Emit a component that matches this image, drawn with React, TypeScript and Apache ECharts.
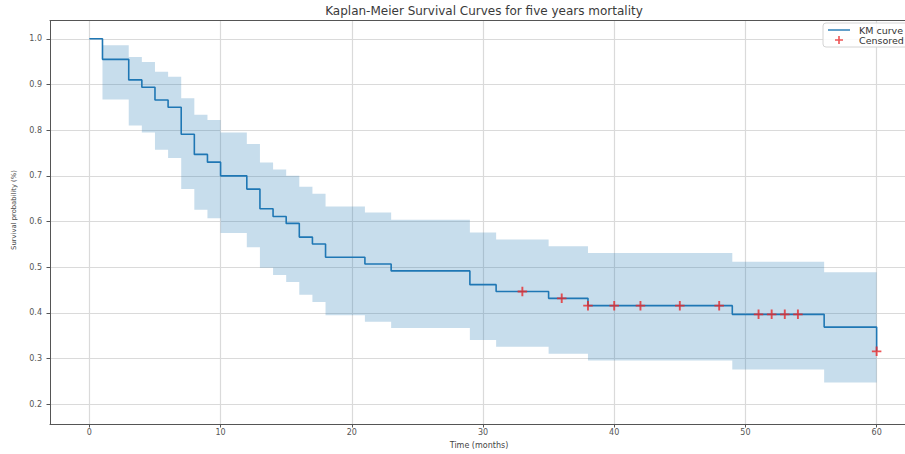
import React, { useEffect, useRef } from "react";
import * as echarts from "echarts";

const TITLE = "Kaplan-Meier Survival Curves for five years mortality";
const X_NAME = "Time (months)";
const Y_NAME = "Survival probability (%)";

const TIMES = [0, 1, 3, 4, 5, 6, 7, 8, 9, 10, 12, 13, 14, 15, 16, 17, 18, 21, 23, 29, 31, 35, 38, 49, 56, 60];
const SURVIVAL = [1.0, 0.955, 0.91, 0.894, 0.866, 0.85, 0.791, 0.747, 0.73, 0.7, 0.671, 0.628, 0.611, 0.596, 0.566, 0.551, 0.522, 0.507, 0.492, 0.462, 0.447, 0.432, 0.416, 0.397, 0.369, 0.316];
const CI_UPPER = [1.0, 0.986, 0.96, 0.949, 0.928, 0.917, 0.87, 0.834, 0.822, 0.795, 0.77, 0.729, 0.714, 0.7, 0.676, 0.661, 0.633, 0.62, 0.604, 0.576, 0.561, 0.546, 0.531, 0.512, 0.489, 0.489];
const CI_LOWER = [1.0, 0.867, 0.81, 0.795, 0.757, 0.739, 0.671, 0.626, 0.607, 0.575, 0.544, 0.499, 0.483, 0.468, 0.44, 0.424, 0.395, 0.381, 0.367, 0.341, 0.326, 0.311, 0.296, 0.276, 0.248, 0.248];
const CENSORED_TIMES = [33, 36, 38, 40, 42, 45, 48, 51, 52, 53, 54, 60];

const X_TICKS = [0, 10, 20, 30, 40, 50, 60];
const Y_TICKS = [0.2, 0.3, 0.4, 0.5, 0.6, 0.7, 0.8, 0.9, 1.0];

const FONT = "DejaVu Sans";
const PLUS = "path://M4,0 H6 V4 H10 V6 H6 V10 H4 V6 H0 V4 H4 Z";
const LINE_ICON = "path://M0,0 M0,3.3 L22,3.3 L22,4.7 L0,4.7 Z M22,8";

function survivalAt(t: number): number {
  let v = SURVIVAL[0];
  for (let i = 0; i < TIMES.length; i++) {
    if (TIMES[i] <= t) v = SURVIVAL[i];
  }
  return v;
}

export default function App() {
  const ref = useRef<HTMLDivElement>(null);

  useEffect(() => {
    document.body.style.margin = "0";
    document.body.style.overflow = "hidden";
    document.documentElement.style.overflow = "hidden";
    if (!ref.current) return;
    const chart = echarts.init(ref.current, undefined, { renderer: "svg" });

    const bandData = TIMES.map((t, i) => [t, CI_LOWER[i], CI_UPPER[i]]);
    const kmData = TIMES.map((t, i) => [t, SURVIVAL[i]]);
    const censData = CENSORED_TIMES.map((t) => [t, survivalAt(t)]);

    const gridLine = { show: true, lineStyle: { color: "#dadada", width: 1.2 } };

    chart.setOption({
      animation: false,
      backgroundColor: "#ffffff",
      title: {
        text: TITLE,
        left: 479,
        textAlign: "center",
        top: 0,
        textStyle: { fontFamily: FONT, fontSize: 12, fontWeight: "normal", color: "#3a3a3a" },
      },
      legend: {
        data: [
          { name: "KM curve", icon: LINE_ICON, itemStyle: { color: "#1f77b4" } },
          { name: "Censored" },
        ],
        orient: "vertical",
        left: 823,
        top: 23,
        itemWidth: 22,
        itemHeight: 8,
        itemGap: 0,
        padding: [2, 8, 2, 5],
        borderColor: "#d4d4d4",
        borderWidth: 1,
        borderRadius: 3,
        backgroundColor: "rgba(255,255,255,0.85)",
        textStyle: { fontFamily: FONT, fontSize: 9.5, color: "#333", padding: [0, 0, 0, 4] },
      },
      grid: { left: 50, right: 4, top: 20.5, bottom: 21, containLabel: false },
      xAxis: [
        {
          type: "value",
          min: -3,
          max: 63,
          name: X_NAME,
          nameLocation: "middle",
          nameGap: 17,
          nameTextStyle: { fontFamily: FONT, fontSize: 8, color: "#444", padding: [0, 8, 0, 0] },
          axisLine: { show: true, onZero: false, lineStyle: { color: "#555", width: 1 } },
          axisTick: { show: true, length: 3.5, customValues: X_TICKS, lineStyle: { color: "#555" } },
          axisLabel: {
            customValues: X_TICKS,
            margin: 4,
            fontFamily: FONT,
            fontSize: 8,
            color: "#555",
            formatter: (v: number) => String(v),
          },
          splitLine: gridLine,
        },
        {
          type: "value",
          position: "top",
          min: -3,
          max: 63,
          axisLine: { show: true, onZero: false, lineStyle: { color: "#555", width: 1 } },
          axisTick: { show: false },
          axisLabel: { show: false },
          splitLine: { show: false },
        },
      ],
      yAxis: [
        {
          type: "value",
          min: 0.157,
          max: 1.04,
          axisLine: { show: true, onZero: false, lineStyle: { color: "#555", width: 1 } },
          axisTick: { show: true, length: 3.5, customValues: Y_TICKS, lineStyle: { color: "#555" } },
          axisLabel: {
            customValues: Y_TICKS,
            margin: 8,
            fontFamily: FONT,
            fontSize: 8,
            color: "#555",
            formatter: (v: number) => v.toFixed(1),
          },
          splitLine: gridLine,
        },
      ],
      graphic: [
        {
          type: "text",
          x: 14,
          y: 210,
          rotation: Math.PI / 2,
          style: {
            text: Y_NAME,
            fontFamily: "Liberation Sans Narrow, DejaVu Sans",
            fontSize: 6.8,
            fill: "#444",
            align: "center",
            verticalAlign: "middle",
          },
        },
      ],
      series: [
        {
          name: "CI band",
          type: "custom",
          data: bandData,
          encode: { x: 0, y: [1, 2] },
          silent: true,
          z: 1,
          renderItem: (params: any, api: any) => {
            if (params.dataIndex !== 0) return null;
            const n = bandData.length;
            const pts: number[][] = [];
            for (let i = 0; i < n; i++) {
              pts.push(api.coord([bandData[i][0], bandData[i][2]]));
              if (i < n - 1) pts.push(api.coord([bandData[i + 1][0], bandData[i][2]]));
            }
            for (let i = n - 1; i >= 0; i--) {
              if (i < n - 1) pts.push(api.coord([bandData[i + 1][0], bandData[i][1]]));
              pts.push(api.coord([bandData[i][0], bandData[i][1]]));
            }
            return {
              type: "polygon",
              shape: { points: pts },
              style: { fill: "rgba(31,119,180,0.25)" },
            };
          },
        },
        {
          name: "KM curve",
          type: "line",
          data: kmData,
          step: "end",
          symbol: "none",
          color: "#1f77b4",
          lineStyle: { color: "#1f77b4", width: 1.6 },
          z: 3,
        },
        {
          name: "Censored",
          type: "scatter",
          data: censData,
          symbol: PLUS,
          symbolSize: 9.5,
          symbolKeepAspect: true,
          color: "#e8292b",
          itemStyle: { color: "#e8292b" },
          z: 4,
        },
      ],
    });

    return () => chart.dispose();
  }, []);

  return <div ref={ref} style={{ width: 920, height: 454 }} />;
}
